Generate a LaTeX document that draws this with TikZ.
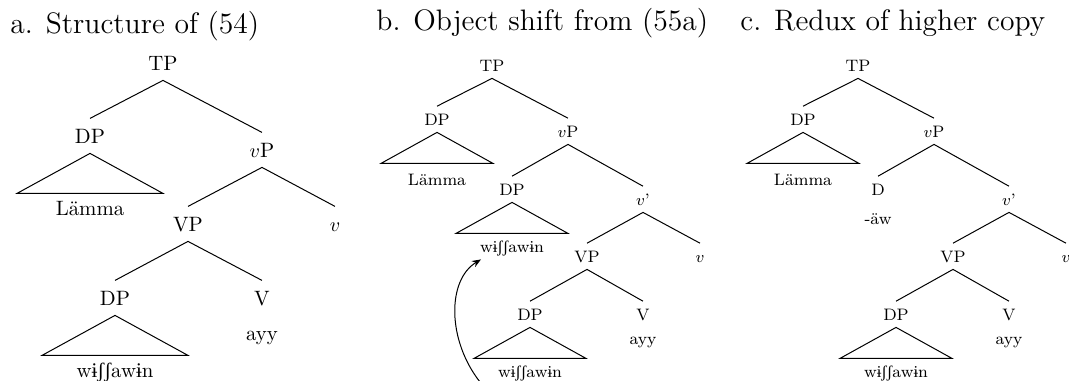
\documentclass[tikz,border=0pt]{standalone}
\usepackage{fontspec}
\usetikzlibrary{arrows.meta}
\newfontfamily\ipafont{Liberation Serif}
\newcommand\objword{w{\ipafont ɨʃʃ}aw{\ipafont ɨ}n}

\begin{document}
\begin{tikzpicture}[x=0.5pt,y=-0.5pt,
  biglab/.style={font=\fontsize{10.4}{12}\selectfont, anchor=base, text height=7.1pt, text depth=0pt, inner ysep=5pt},
  smlab/.style={font=\fontsize{8.3}{10}\selectfont, anchor=base, text height=5.7pt, text depth=0pt, inner ysep=3.5pt},
  head/.style={font=\fontsize{14.8}{17}\selectfont, anchor=base west, inner sep=0pt},
  branch/.style={line width=0.5pt}]
\useasboundingbox (0,0) rectangle (1069,380);
% headings
\node[head] (ta) at (10,33) {a. Structure of (54)};
\node[head] (tb) at (376,31) {b. Object shift from (55a)};
\node[head] (tc) at (740,31) {c. Redux of higher copy};
% tree a
\node[biglab] (aTP) at (163,70) {TP};
\node[biglab] (aDP) at (90,143) {DP};
\node[biglab] (avP) at (262,157) {$v$P};
\node[biglab] (aLam) at (90,215) {Lämma};
\node[biglab] (aVP) at (188,231) {VP};
\node[biglab] (av) at (335,231) {$v$};
\node[biglab] (aDPo) at (115,305) {DP};
\node[biglab] (aV) at (262,305) {V};
\node[biglab] (aObj) at (115,377) {\objword};
\node[biglab] (aayy) at (262,340) {ayy};
\draw[branch] (aTP.south) -- (aDP.north);
\draw[branch] (aTP.south) -- (avP.north);
\draw[branch] (aDP.south) -- ++(-73,40) -- ++(146,0) -- cycle;
\draw[branch] (avP.south) -- (aVP.north);
\draw[branch] (avP.south) -- (av.north);
\draw[branch] (aVP.south) -- (aDPo.north);
\draw[branch] (aVP.south) -- (aV.north);
\draw[branch] (aDPo.south) -- ++(-73,40) -- ++(146,0) -- cycle;
% tree b
\node[smlab] (bTP) at (492,71) {TP};
\node[smlab] (bDP) at (437,125) {DP};
\node[smlab] (bvP) at (568,137) {$v$P};
\node[smlab] (bLam) at (437,185) {Lämma};
\node[smlab] (bDPs) at (512,195) {DP};
\node[smlab] (bvb) at (643,205) {$v$'};
\node[smlab] (bObj) at (512,252) {\objword};
\node[smlab] (bVP) at (587,262) {VP};
\node[smlab] (bv) at (700,262) {$v$};
\node[smlab] (bDPo) at (530,320) {DP};
\node[smlab] (bV) at (643,320) {V};
\node[smlab] (bObjo) at (530,377) {\objword};
\node[smlab] (bayy) at (643,344) {ayy};
\draw[branch] (bTP.south) -- (bDP.north);
\draw[branch] (bTP.south) -- (bvP.north);
\draw[branch] (bDP.south) -- ++(-56,31) -- ++(112,0) -- cycle;
\draw[branch] (bvP.south) -- (bDPs.north);
\draw[branch] (bvP.south) -- (bvb.north);
\draw[branch] (bDPs.south) -- ++(-56,31) -- ++(112,0) -- cycle;
\draw[branch] (bvb.south) -- (bVP.north);
\draw[branch] (bvb.south) -- (bv.north);
\draw[branch] (bVP.south) -- (bDPo.north);
\draw[branch] (bVP.south) -- (bV.north);
\draw[branch] (bDPo.south) -- ++(-56,31) -- ++(112,0) -- cycle;
% movement
\coordinate (mvfoot) at (480,382);
\draw[branch, -{Stealth[length=4.5pt,width=3.5pt]}] (mvfoot) .. controls (447,340) and (447,280) .. ([xshift=4pt]bObj.south west);
% tree c
\node[smlab] (cTP) at (858,71) {TP};
\node[smlab] (cDP) at (803,125) {DP};
\node[smlab] (cvP) at (934,137) {$v$P};
\node[smlab] (cLam) at (803,185) {Lämma};
\node[smlab] (cD) at (878,195) {D};
\node[smlab] (cvb) at (1009,205) {$v$'};
\node[smlab] (caw) at (878,224) {-äw};
\node[smlab] (cVP) at (953,262) {VP};
\node[smlab] (cv) at (1066,262) {$v$};
\node[smlab] (cDPo) at (896,320) {DP};
\node[smlab] (cV) at (1009,320) {V};
\node[smlab] (cObjo) at (896,377) {\objword};
\node[smlab] (cayy) at (1009,344) {ayy};
\draw[branch] (cTP.south) -- (cDP.north);
\draw[branch] (cTP.south) -- (cvP.north);
\draw[branch] (cDP.south) -- ++(-56,31) -- ++(112,0) -- cycle;
\draw[branch] (cvP.south) -- (cD.north);
\draw[branch] (cvP.south) -- (cvb.north);
\draw[branch] (cvb.south) -- (cVP.north);
\draw[branch] (cvb.south) -- (cv.north);
\draw[branch] (cVP.south) -- (cDPo.north);
\draw[branch] (cVP.south) -- (cV.north);
\draw[branch] (cDPo.south) -- ++(-56,31) -- ++(112,0) -- cycle;
\end{tikzpicture}
\end{document}
